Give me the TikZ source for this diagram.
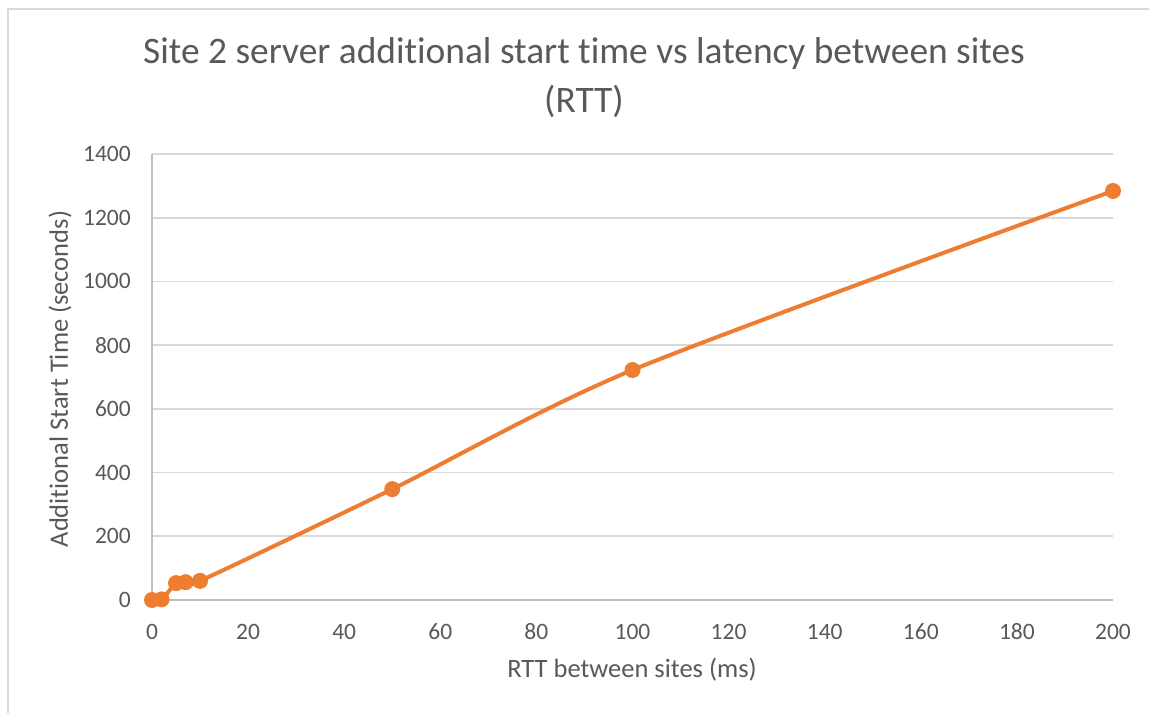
\documentclass[tikz,border=0pt]{standalone}
\usepackage{fontspec}
\setmainfont{Carlito}[Ligatures={NoCommon}]
\definecolor{txtgray}{HTML}{595959}
\definecolor{gridgray}{HTML}{D9D9D9}
\definecolor{axisgray}{HTML}{BFBFBF}
\definecolor{seriesorange}{HTML}{ED7D31}
\begin{document}
\begin{tikzpicture}[x=1pt,y=-1pt,
  ticklabel/.style={text=txtgray,font=\fontsize{23.5}{27}\selectfont,inner sep=0pt},
  axistitle/.style={text=txtgray,font=\fontsize{26.5}{31}\selectfont,inner sep=0pt},
  charttitle/.style={text=txtgray,font=\fontsize{37.4}{44}\selectfont,inner sep=0pt},
  gridline/.style={draw=gridgray,line width=1.6pt},
  axisline/.style={draw=axisgray,line width=1.6pt},
  marker/.style={circle,fill=seriesorange,inner sep=0pt,minimum size=16pt},
  series/.style={draw=seriesorange,line width=4pt,line cap=round,line join=round}]
\useasboundingbox (0,0) rectangle (1149,713);
\fill[white] (0,0) rectangle (1149,713);
% chart area frame
\draw[draw=gridgray,line width=2pt] (8,713) -- (8,9) -- (1149,9);
% data-to-page mapping: x in ms, y in seconds
\def\px#1{152+4.805*#1}
\def\py#1{600-0.31857*#1}
% horizontal gridlines and y tick labels
\foreach \v in {200,400,...,1400}{
  \draw[gridline] ({\px{0}},{\py{\v}}) -- ({\px{200}},{\py{\v}});
}
\foreach \v in {0,200,...,1400}{
  \node[ticklabel,anchor=east] (yt\v) at (131,{\py{\v}}) {\v};
}
% axes
\draw[axisline] ({\px{0}},{\py{0}}) -- ({\px{200}},{\py{0}});
\draw[axisline] ({\px{0}},{\py{0}}) -- ({\px{0}},{\py{1400}});
% x tick labels
\foreach \v in {0,20,...,200}{
  \node[ticklabel] (xt\v) at ({\px{\v}},632) {\v};
}
% axis titles
\node[axistitle] (xtitle) at (632,670) {RTT between sites (ms)};
\node[axistitle,rotate=90] (ytitle) at (60,379) {Additional Start Time (seconds)};
% chart title
\node[charttitle] (title1) at (584,54) {Site 2 server additional start time vs latency between sites};
\node[charttitle] (title2) at (584,101) {(RTT)};
% data points
\coordinate (p0) at ({\px{0}},{\py{0}});
\coordinate (p1) at ({\px{2}},{\py{2}});
\coordinate (p2) at ({\px{5}},{\py{53}});
\coordinate (p3) at ({\px{7}},{\py{56}});
\coordinate (p4) at ({\px{10}},{\py{60}});
\coordinate (p5) at ({\px{50}},{\py{348}});
\coordinate (p6) at ({\px{100}},{\py{722}});
\coordinate (p7) at ({\px{200}},{\py{1284}});
\draw[series] plot[smooth,tension=0.45] coordinates {(p0) (p1) (p2) (p3) (p4) (p5) (p6) (p7)};
\foreach \i in {0,...,7}{
  \node[marker] (m\i) at (p\i) {};
}
\end{tikzpicture}
\end{document}
